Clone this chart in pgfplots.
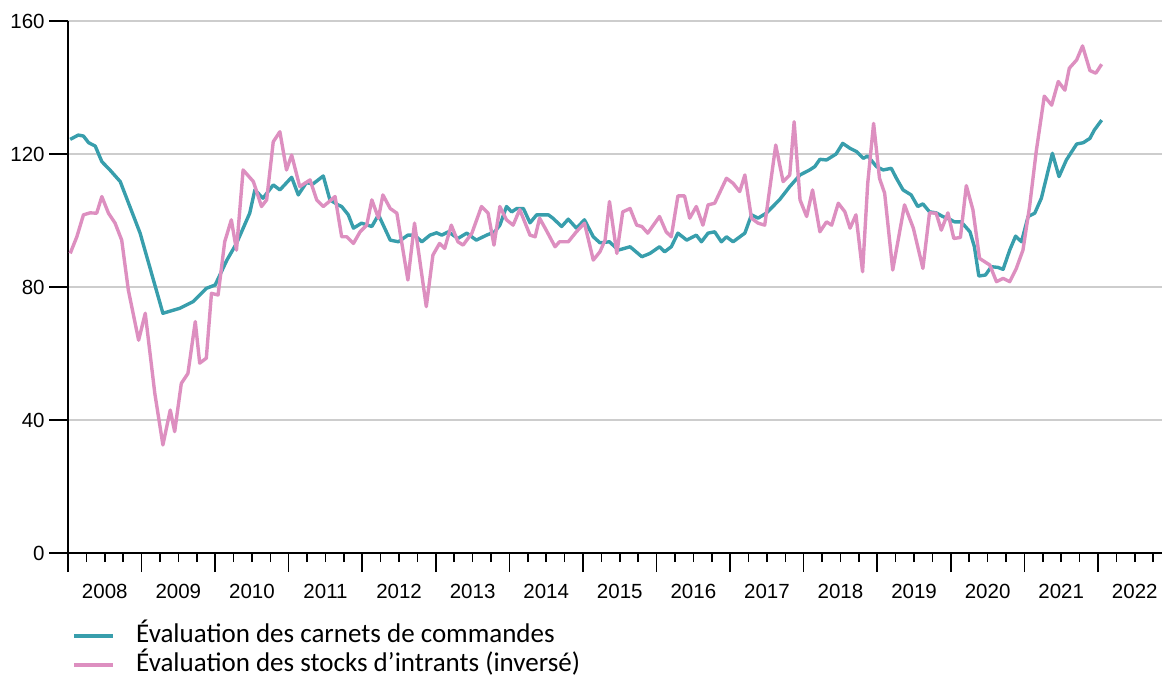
\documentclass[border=0pt]{standalone}
\usepackage{fontspec}
\setmainfont{Liberation Sans}
\newfontfamily\carlito{Carlito}
\usepackage{pgfplots}
\pgfplotsset{compat=1.18}
\definecolor{teal1}{RGB}{56,158,172}
\definecolor{pink1}{RGB}{221,143,192}
\definecolor{gridg}{RGB}{205,205,205}
\begin{document}
\begin{tikzpicture}
\begin{axis}[
  scale only axis,
  width=1094pt, height=532pt,
  xmin=2008, xmax=2022.87,
  ymin=0, ymax=160,
  axis x line=bottom, axis y line=left,
  axis line style={-, line width=1.6pt, black},
  ytick={0,40,80,120,160},
  ymajorgrids, grid style={gridg, line width=1.6pt},
  xtick={2008,2009,...,2022},
  xticklabels={},
  minor xtick={2008.25,2008.5,2008.75,2009.25,2009.5,2009.75,2010.25,2010.5,2010.75,2011.25,2011.5,2011.75,2012.25,2012.5,2012.75,2013.25,2013.5,2013.75,2014.25,2014.5,2014.75,2015.25,2015.5,2015.75,2016.25,2016.5,2016.75,2017.25,2017.5,2017.75,2018.25,2018.5,2018.75,2019.25,2019.5,2019.75,2020.25,2020.5,2020.75,2021.25,2021.5,2021.75,2022.25,2022.5,2022.75},
  tick align=outside,
  major tick length=19pt,
  minor tick length=9pt,
  every tick/.style={black, line width=1.6pt},
  extra x ticks={2008.5,2009.5,2010.5,2011.5,2012.5,2013.5,2014.5,2015.5,2016.5,2017.5,2018.5,2019.5,2020.5,2021.5,2022.5},
  extra x tick labels={2008,2009,2010,2011,2012,2013,2014,2015,2016,2017,2018,2019,2020,2021,2022},
  extra x tick style={major tick length=0pt, grid=none, xticklabel style={yshift=-28pt}},
  /pgf/number format/assume math mode=true,
  tick label style={font=\fontsize{20.5}{24}\selectfont, text=black},
  yticklabel style={xshift=-1pt},
  legend style={at={(axis description cs:0,0)}, anchor=north west, xshift=4pt, yshift=-70pt,
    draw=none, fill=none, inner sep=0pt, row sep=4pt,
    font=\carlito\fontsize{27}{31}\selectfont,
    nodes={inner sep=0pt, text height=19pt, text depth=6pt}},
  legend cell align=left,
  /tikz/every odd column/.append style={column sep=21pt},
  legend image code/.code={\draw[#1, line width=4pt] (0pt,0pt) -- (39pt,0pt);},
  clip=false,
]
\addplot[teal1, line width=3.4pt, line join=round] coordinates {
(2008.03,124.4) (2008.14,125.7) (2008.21,125.4) (2008.28,123.4) (2008.37,122.4) (2008.46,117.7)
(2008.57,115.2) (2008.71,111.7) (2008.98,96.2) (2009.29,72.1) (2009.52,73.6) (2009.70,75.6)
(2009.88,79.6) (2010.00,80.6) (2010.16,88.1) (2010.29,93.1) (2010.47,102.2) (2010.54,109.2)
(2010.65,106.7) (2010.79,110.7) (2010.88,109.2) (2011.04,113.0) (2011.13,107.7) (2011.24,111.4)
(2011.33,111.0) (2011.47,113.4) (2011.56,106.2) (2011.67,104.7) (2011.72,104.2) (2011.81,101.7)
(2011.88,97.7) (2011.99,99.2) (2012.13,98.2) (2012.22,101.7) (2012.38,94.1) (2012.49,93.6)
(2012.62,95.6) (2012.71,95.6) (2012.81,93.6) (2012.92,95.6) (2013.01,96.3) (2013.08,95.6)
(2013.17,96.6) (2013.30,94.6) (2013.42,96.2) (2013.55,94.1) (2013.69,95.6) (2013.80,96.6)
(2013.87,98.6) (2013.96,104.2) (2014.03,102.6) (2014.10,103.6) (2014.19,103.6) (2014.28,99.3)
(2014.37,101.7) (2014.53,101.7) (2014.59,100.7) (2014.71,98.2) (2014.80,100.4) (2014.91,97.7)
(2015.02,100.2) (2015.14,95.1) (2015.23,93.3) (2015.36,93.6) (2015.48,91.1) (2015.64,92.1)
(2015.80,89.1) (2015.91,90.1) (2016.04,92.1) (2016.11,90.6) (2016.20,92.1) (2016.29,96.2)
(2016.41,94.1) (2016.54,95.6) (2016.61,93.6) (2016.70,96.2) (2016.79,96.6) (2016.88,93.6)
(2016.95,95.1) (2017.04,93.6) (2017.20,96.2) (2017.29,101.7) (2017.38,100.7) (2017.49,102.2)
(2017.67,106.2) (2017.81,110.2) (2017.95,113.7) (2018.08,115.2) (2018.15,116.2) (2018.22,118.4)
(2018.31,118.2) (2018.44,120.0) (2018.53,123.2) (2018.63,121.7) (2018.72,120.7) (2018.81,118.7)
(2018.87,119.4) (2018.99,116.2) (2019.08,115.2) (2019.19,115.7) (2019.26,112.7) (2019.35,109.2)
(2019.46,107.7) (2019.55,104.2) (2019.62,105.0) (2019.71,102.6) (2019.80,102.3) (2019.89,101.2)
(2019.98,100.4) (2020.05,99.6) (2020.14,99.6) (2020.26,96.6) (2020.32,92.1) (2020.38,83.3)
(2020.47,83.6) (2020.55,86.1) (2020.64,85.9) (2020.71,85.3) (2020.80,91.1) (2020.88,95.3)
(2020.96,93.6) (2021.05,101.2) (2021.14,102.2) (2021.23,106.7) (2021.38,120.2) (2021.47,113.2)
(2021.57,118.2) (2021.71,123.0) (2021.80,123.4) (2021.89,124.7) (2021.95,127.2) (2022.05,130.2)
};
\addlegendentry{Évaluation des carnets de commandes}
\addplot[pink1, line width=3.4pt, line join=round] coordinates {
(2008.03,90.1) (2008.12,95.1) (2008.21,101.7) (2008.30,102.3) (2008.39,102.2) (2008.46,107.2)
(2008.55,102.2) (2008.64,99.2) (2008.73,94.1) (2008.82,79.1) (2008.96,64.0) (2009.05,72.1)
(2009.18,48.0) (2009.29,32.5) (2009.39,43.0) (2009.45,36.5) (2009.54,51.0) (2009.63,54.0)
(2009.73,69.6) (2009.79,57.1) (2009.88,58.6) (2009.95,78.1) (2010.04,77.6) (2010.13,93.6)
(2010.22,100.2) (2010.29,91.1) (2010.38,115.2) (2010.52,111.7) (2010.63,104.2) (2010.70,106.2)
(2010.79,123.7) (2010.88,126.7) (2010.97,115.2) (2011.04,119.7) (2011.15,110.2) (2011.29,112.2)
(2011.38,106.2) (2011.47,104.2) (2011.63,107.2) (2011.72,95.1) (2011.79,95.1) (2011.88,93.1)
(2011.97,96.6) (2012.06,98.6) (2012.13,106.2) (2012.22,100.7) (2012.28,107.7) (2012.38,103.6)
(2012.47,102.2) (2012.62,82.1) (2012.71,99.2) (2012.87,74.1) (2012.96,89.6) (2013.05,93.1)
(2013.12,91.6) (2013.21,98.6) (2013.30,93.6) (2013.37,92.6) (2013.49,96.2) (2013.62,104.2)
(2013.71,102.2) (2013.79,92.6) (2013.87,104.2) (2013.96,100.2) (2014.05,98.6) (2014.14,103.3)
(2014.28,95.6) (2014.35,95.1) (2014.41,100.7) (2014.50,97.1) (2014.62,92.1) (2014.68,93.6)
(2014.80,93.6) (2014.91,96.6) (2015.02,99.2) (2015.14,88.1) (2015.23,90.6) (2015.30,94.1)
(2015.36,105.7) (2015.46,90.1) (2015.54,102.6) (2015.64,103.6) (2015.73,98.6) (2015.80,98.2)
(2015.88,96.2) (2016.04,101.2) (2016.13,96.6) (2016.20,95.1) (2016.29,107.4) (2016.38,107.4)
(2016.45,100.7) (2016.54,104.2) (2016.63,98.6) (2016.70,104.7) (2016.79,105.2) (2016.95,112.7)
(2017.04,111.2) (2017.13,108.7) (2017.20,113.7) (2017.29,100.7) (2017.38,99.2) (2017.47,98.6)
(2017.62,122.7) (2017.72,111.7) (2017.81,113.7) (2017.87,129.7) (2017.95,106.2) (2018.04,101.2)
(2018.12,109.2) (2018.22,96.6) (2018.31,99.6) (2018.38,98.6) (2018.47,105.2) (2018.56,102.6)
(2018.63,97.7) (2018.71,101.7) (2018.80,84.6) (2018.87,111.2) (2018.95,129.2) (2019.03,112.7)
(2019.10,108.2) (2019.21,85.1) (2019.37,104.7) (2019.49,97.7) (2019.62,85.6) (2019.71,102.3)
(2019.80,102.2) (2019.87,97.1) (2019.96,102.3) (2020.04,94.6) (2020.13,94.9) (2020.21,110.5)
(2020.30,103.2) (2020.39,88.6) (2020.53,86.6) (2020.62,81.6) (2020.71,82.6) (2020.80,81.6)
(2020.89,85.6) (2020.98,91.1) (2021.07,104.2) (2021.16,120.7) (2021.27,137.4) (2021.37,134.7)
(2021.46,141.8) (2021.55,139.2) (2021.61,145.8) (2021.71,148.3) (2021.79,152.5) (2021.89,145.1)
(2021.97,144.3) (2022.05,147.0)
};
\addlegendentry{Évaluation des stocks d’intrants (inversé)}
\coordinate (SW) at (rel axis cs:0,0);
\coordinate (NE) at (rel axis cs:1,1);
\end{axis}
\pgfresetboundingbox
\path ([xshift=-68pt,yshift=-125pt]SW) rectangle ([xshift=2pt,yshift=21pt]NE);
\end{tikzpicture}
\end{document}
